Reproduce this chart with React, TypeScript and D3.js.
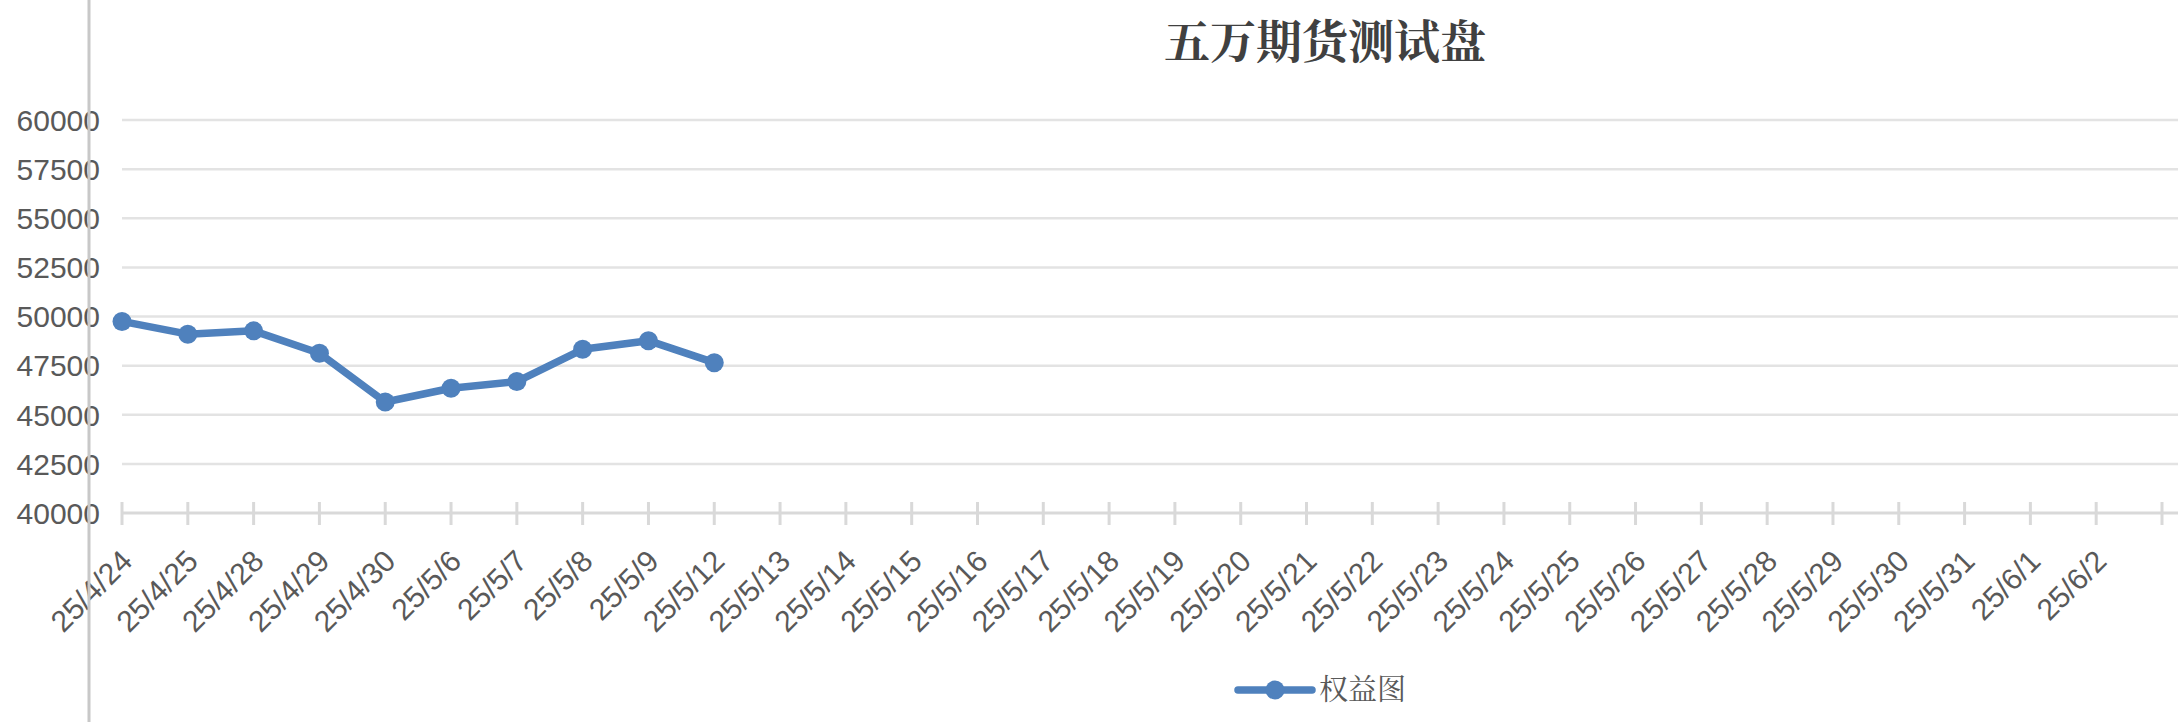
import * as d3 from 'd3';
import * as React from 'react';
import { Component } from 'react';

// chart data
const categories: string[] = [
  '25/4/24', '25/4/25', '25/4/28', '25/4/29', '25/4/30',
  '25/5/6', '25/5/7', '25/5/8', '25/5/9', '25/5/12',
  '25/5/13', '25/5/14', '25/5/15', '25/5/16', '25/5/17',
  '25/5/18', '25/5/19', '25/5/20', '25/5/21', '25/5/22',
  '25/5/23', '25/5/24', '25/5/25', '25/5/26', '25/5/27',
  '25/5/28', '25/5/29', '25/5/30', '25/5/31', '25/6/1', '25/6/2'
];
const equity: number[] = [
  49750, 49100, 49270, 48130, 45650,
  46350, 46690, 48330, 48770, 47650
];
const yTicks: number[] = [40000, 42500, 45000, 47500, 50000, 52500, 55000, 57500, 60000];

const title = '五万期货测试盘';
const seriesName = '权益图';

class App extends Component {

  private chartElement: any;

  componentDidMount() {
    this.renderChart();
  }

  componentDidUpdate() {
    this.renderChart();
  }

  renderChart() {
    const width = 2178,
      height = 722;
    const blue = '#4f81bd',
      labelColor = '#595959',
      latin = '"Liberation Sans", Arial, sans-serif',
      cjk = '"Noto Serif CJK SC", "Noto Sans CJK SC", serif';

    const root = d3.select(this.chartElement);
    root.selectAll('*').remove();

    const svg = root.append('svg')
      .attr('width', width)
      .attr('height', height)
      .style('position', 'absolute')
      .style('left', '0px')
      .style('top', '0px')
      .style('background', '#fff');

    // one extra slot at the end of the category axis (tick with no label)
    const x = d3.scaleLinear().domain([0, categories.length]).range([122, 2162]);
    const y = d3.scaleLinear().domain([40000, 60000]).range([513, 120]);

    // gridlines
    svg.append('g')
      .selectAll('line')
      .data(yTicks.filter(t => t !== 40000))
      .enter()
      .append('line')
      .attr('x1', x(0))
      .attr('x2', width)
      .attr('y1', d => y(d))
      .attr('y2', d => y(d))
      .attr('stroke', '#e3e3e3')
      .attr('stroke-width', 2.5);

    // category axis
    const xAxis = svg.append('g');
    xAxis.append('line')
      .attr('x1', x(0))
      .attr('x2', width)
      .attr('y1', y(40000))
      .attr('y2', y(40000))
      .attr('stroke', '#d9d9d9')
      .attr('stroke-width', 3);
    xAxis.selectAll('.tick')
      .data(d3.range(categories.length + 1))
      .enter()
      .append('line')
      .attr('class', 'tick')
      .attr('x1', d => x(d))
      .attr('x2', d => x(d))
      .attr('y1', y(40000) - 11)
      .attr('y2', y(40000) + 12)
      .attr('stroke', '#d9d9d9')
      .attr('stroke-width', 3);
    xAxis.selectAll('text')
      .data(categories)
      .enter()
      .append('text')
      .attr('transform', (d, i) => 'translate(' + (x(i) + 12) + ',' + 563 + ') rotate(-45)')
      .attr('text-anchor', 'end')
      .attr('fill', labelColor)
      .style('font-family', latin)
      .style('font-size', '30px')
      .text(d => d);

    // value axis labels
    svg.append('g')
      .selectAll('text')
      .data(yTicks)
      .enter()
      .append('text')
      .attr('x', 100)
      .attr('y', d => y(d))
      .attr('dy', '0.36em')
      .attr('text-anchor', 'end')
      .attr('fill', labelColor)
      .style('font-family', latin)
      .style('font-size', '30px')
      .text(d => d);

    // series
    const line = d3.line<number>()
      .x((d, i) => x(i))
      .y(d => y(d));

    svg.append('path')
      .datum(equity)
      .attr('d', line)
      .attr('fill', 'none')
      .attr('stroke', blue)
      .attr('stroke-width', 7.5)
      .attr('stroke-linejoin', 'round')
      .attr('stroke-linecap', 'round');

    svg.append('g')
      .selectAll('circle')
      .data(equity)
      .enter()
      .append('circle')
      .attr('cx', (d, i) => x(i))
      .attr('cy', d => y(d))
      .attr('r', 9.5)
      .attr('fill', blue);

    // title
    svg.append('text')
      .attr('x', 1325)
      .attr('y', 58)
      .attr('text-anchor', 'middle')
      .attr('fill', '#404040')
      .style('font-family', cjk)
      .style('font-weight', 'bold')
      .style('font-size', '46px')
      .text(title);

    // legend
    const legend = svg.append('g');
    legend.append('line')
      .attr('x1', 1238)
      .attr('x2', 1312)
      .attr('y1', 690)
      .attr('y2', 690)
      .attr('stroke', blue)
      .attr('stroke-width', 7.5)
      .attr('stroke-linecap', 'round');
    legend.append('circle')
      .attr('cx', 1275)
      .attr('cy', 690)
      .attr('r', 9.5)
      .attr('fill', blue);
    legend.append('text')
      .attr('x', 1319)
      .attr('y', 700)
      .attr('fill', labelColor)
      .style('font-family', cjk)
      .style('font-size', '29px')
      .text(seriesName);

    // frame line on the left edge, drawn over the value labels
    svg.append('line')
      .attr('x1', 89)
      .attr('x2', 89)
      .attr('y1', 0)
      .attr('y2', height)
      .attr('stroke', '#c8c8c8')
      .attr('stroke-width', 3);
  }

  render() {
    return (
      <div>
        <div className="Chart" ref={el => { this.chartElement = el; }}></div>
      </div>
    );
  }
}

export default App;
